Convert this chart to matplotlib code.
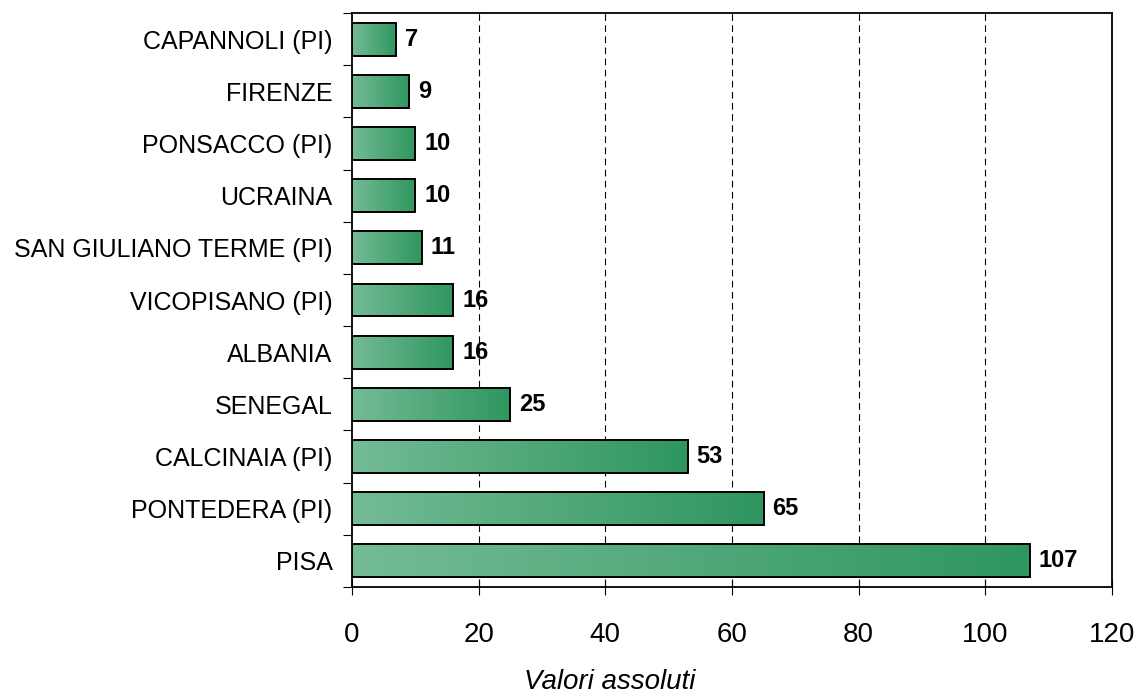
import matplotlib.pyplot as plt
import matplotlib.colors as mcolors
from matplotlib.patches import Rectangle
import numpy as np

plt.rcParams['font.family'] = ['Liberation Sans', 'DejaVu Sans']

# categories listed bottom to top
places = ['PISA', 'PONTEDERA (PI)', 'CALCINAIA (PI)', 'SENEGAL', 'ALBANIA',
          'VICOPISANO (PI)', 'SAN GIULIANO TERME (PI)', 'UCRAINA',
          'PONSACCO (PI)', 'FIRENZE', 'CAPANNOLI (PI)']
counts = [107, 65, 53, 25, 16, 16, 11, 10, 10, 9, 7]

fig = plt.figure(figsize=(11.38, 6.99), dpi=100)
ax = fig.add_axes([0.3093, 0.1602, 0.6679, 0.8212])

green = mcolors.LinearSegmentedColormap.from_list('green', ['#74bb96', '#2f965f'])
grad = np.linspace(0, 1, 256).reshape(1, -1)

bar_h = 0.63
ypos = np.arange(len(places))
for y, v in zip(ypos, counts):
    # gradient fill, then a black outline on top
    ax.imshow(grad, cmap=green, aspect='auto', interpolation='bilinear',
              extent=[0, v, y - bar_h / 2, y + bar_h / 2], zorder=2)
    ax.add_patch(Rectangle((0, y - bar_h / 2), v, bar_h, fill=False,
                           edgecolor='black', linewidth=1.4, zorder=3))
    ax.text(v + 1.4, y, str(v), va='center', ha='left', fontsize=17,
            fontweight='bold', zorder=4)

ax.set_xlim(0, 120)
ax.set_ylim(-0.5, len(places) - 0.5)
ax.set_xticks(np.arange(0, 121, 20))
ax.tick_params(axis='x', labelsize=20, direction='inout', length=11, pad=19.5)

# category labels sit between the tick marks
ax.set_yticks(np.arange(-0.5, len(places), 1))
ax.set_yticklabels([])
ax.set_yticks(ypos, minor=True)
ax.set_yticklabels(places, minor=True, fontsize=18)
ax.tick_params(axis='y', which='minor', length=0, pad=14)
ax.tick_params(axis='y', which='major', direction='out', length=6.5)

for x in range(20, 120, 20):
    ax.axvline(x, color='black', linestyle=(0, (6, 4)), linewidth=0.8, zorder=1)

for s in ax.spines.values():
    s.set_linewidth(1.3)

ax.set_xlabel('Valori assoluti', fontsize=20, style='italic', va='bottom')
ax.xaxis.set_label_coords(0.339, -0.188)

fig.savefig('out.png', dpi=100)
